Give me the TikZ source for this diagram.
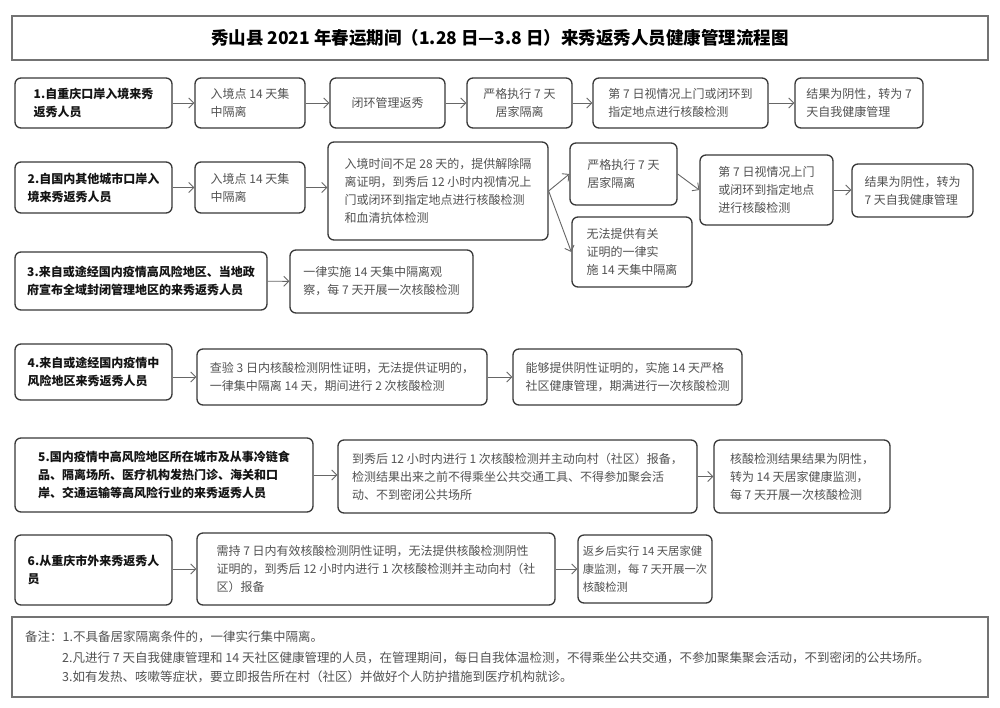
\documentclass[tikz,border=0pt]{standalone}
\usepackage{fontspec}
\setmainfont{Noto Sans CJK SC}
\usetikzlibrary{arrows.meta,positioning}

\begin{document}
\begin{tikzpicture}[x=1pt,y=-1pt,
    flowbox/.style={draw=black!78, line width=1.3pt, rounded corners=6pt, align=left, inner sep=3pt, text=black!68, font=\fontsize{12}{18}\selectfont},
    headbox/.style={flowbox, text=black!92, font=\fontsize{12}{18}\selectfont\bfseries},
    flowarrow/.style={draw=black!60, line width=0.9pt, -{Straight Barb[length=5pt,width=10pt]}},
    notetext/.style={anchor=base west, inner sep=0pt, text=black!68, font=\fontsize{12.5}{18}\selectfont}]
    \useasboundingbox[fill=white] (0,0) rectangle (1000,707);

    \node[draw=black!55, line width=1.8pt, minimum width=976, minimum height=44, font=\fontsize{17.5}{22}\selectfont\bfseries] (title) at (500,38) {秀山县 2021 年春运期间（1.28 日—3.8 日）来秀返秀人员健康管理流程图};

    \node[headbox, minimum width=157, minimum height=50] (r1a) at (93.5,103) {1.自重庆口岸入境来秀\\返秀人员};
    \node[flowbox, minimum width=110, minimum height=50] (r1b) at (250,103) {入境点 14 天集\\中隔离};
    \node[flowbox, minimum width=115, minimum height=50] (r1c) at (387.5,103) {闭环管理返秀};
    \node[flowbox, align=center, minimum width=105, minimum height=50] (r1d) at (519.5,103) {严格执行 7 天\\居家隔离};
    \node[flowbox, minimum width=175, minimum height=50] (r1e) at (680.5,103) {第 7 日视情况上门或闭环到\\指定地点进行核酸检测};
    \node[flowbox, minimum width=128, minimum height=50] (r1f) at (859,103) {结果为阴性，转为 7\\天自我健康管理};

    \node[headbox, minimum width=157, minimum height=51] (r2a) at (93.5,187.5) {2.自国内其他城市口岸入\\境来秀返秀人员};
    \node[flowbox, minimum width=110, minimum height=51] (r2b) at (250,187.5) {入境点 14 天集\\中隔离};
    \node[flowbox, minimum width=220, minimum height=98] (r2c) at (438,191) {入境时间不足 28 天的，提供解除隔\\离证明，到秀后 12 小时内视情况上\\门或闭环到指定地点进行核酸检测\\和血清抗体检测};
    \node[flowbox, minimum width=107, minimum height=62] (r2d) at (623.5,174) {严格执行 7 天\\居家隔离};
    \node[flowbox, minimum width=120, minimum height=70] (r2e) at (632,252) {无法提供有关\\证明的一律实\\施 14 天集中隔离};
    \node[flowbox, minimum width=133, minimum height=70] (r2f) at (766.5,190) {第 7 日视情况上门\\或闭环到指定地点\\进行核酸检测};
    \node[flowbox, minimum width=121, minimum height=53] (r2g) at (912.5,190.5) {结果为阴性，转为\\7 天自我健康管理};

    \node[headbox, minimum width=252, minimum height=58] (r3a) at (141,281) {3.来自或途经国内疫情高风险地区、当地政\\府宣布全域封闭管理地区的来秀返秀人员};
    \node[flowbox, minimum width=183, minimum height=63] (r3b) at (381.5,281.5) {一律实施 14 天集中隔离观\\察，每 7 天开展一次核酸检测};

    \node[headbox, minimum width=157, minimum height=56] (r4a) at (93.5,372) {4.来自或途经国内疫情中\\风险地区来秀返秀人员};
    \node[flowbox, minimum width=290, minimum height=56] (r4b) at (342,377) {查验 3 日内核酸检测阴性证明，无法提供证明的，\\一律集中隔离 14 天，期间进行 2 次核酸检测};
    \node[flowbox, minimum width=229, minimum height=56] (r4c) at (627.5,377) {能够提供阴性证明的，实施 14 天严格\\社区健康管理，期满进行一次核酸检测};

    \node[headbox, minimum width=298, minimum height=74] (r5a) at (164,475) {5.国内疫情中高风险地区所在城市及从事冷链食\\品、隔离场所、医疗机构发热门诊、海关和口\\岸、交通运输等高风险行业的来秀返秀人员};
    \node[flowbox, minimum width=359, minimum height=73] (r5b) at (517.5,476.5) {到秀后 12 小时内进行 1 次核酸检测并主动向村（社区）报备，\\检测结果出来之前不得乘坐公共交通工具、不得参加聚会活\\动、不到密闭公共场所};
    \node[flowbox, minimum width=176, minimum height=73] (r5c) at (802,476.5) {核酸检测结果结果为阴性，\\转为 14 天居家健康监测，\\每 7 天开展一次核酸检测};

    \node[headbox, minimum width=157, minimum height=70] (r6a) at (93.5,570) {6.从重庆市外来秀返秀人\\员};
    \node[flowbox, minimum width=358, minimum height=72] (r6b) at (376,569) {需持 7 日内有效核酸检测阴性证明，无法提供核酸检测阴性\\证明的，到秀后 12 小时内进行 1 次核酸检测并主动向村（社\\区）报备};
    \node[flowbox, minimum width=134, minimum height=68, font=\fontsize{11.3}{18}\selectfont] (r6c) at (645,569) {返乡后实行 14 天居家健\\康监测，每 7 天开展一次\\核酸检测};

    \draw[flowarrow] (r1a) -- (r1b);
    \draw[flowarrow] (r1b) -- (r1c);
    \draw[flowarrow] (r1c) -- (r1d);
    \draw[flowarrow] (r1d) -- (r1e);
    \draw[flowarrow] (r1e) -- (r1f);

    \draw[flowarrow] (r2a) -- (r2b);
    \draw[flowarrow] (r2b.east) -- (r2b.east -| r2c.west);
    \draw[flowarrow] (r2c.east) -- (r2d.west);
    \draw[flowarrow] (r2c.east) -- (r2e.west);
    \draw[flowarrow] (r2d.east) -- (r2f.west);
    \draw[flowarrow] (r2f.east) -- (r2f.east -| r2g.west);

    \draw[flowarrow] (r3a) -- (r3b);

    \draw[flowarrow] (r4b.west -| r4a.east) -- (r4b.west);
    \draw[flowarrow] (r4b) -- (r4c);

    \draw[flowarrow] (r5a.east) -- (r5a.east -| r5b.west);
    \draw[flowarrow] (r5b) -- (r5c);

    \draw[flowarrow] (r6b.west -| r6a.east) -- (r6b.west);
    \draw[flowarrow] (r6b) -- (r6c);

    \node[draw=black!55, line width=1.5pt, minimum width=976, minimum height=80] (notebox) at (500,657) {};
    \node[notetext] (note1) at (25,641) {备注：1.不具备居家隔离条件的，一律实行集中隔离。};
    \node[notetext] (note2) at (62,662) {2.凡进行 7 天自我健康管理和 14 天社区健康管理的人员，在管理期间，每日自我体温检测，不得乘坐公共交通，不参加聚集聚会活动，不到密闭的公共场所。};
    \node[notetext] (note3) at (62,681) {3.如有发热、咳嗽等症状，要立即报告所在村（社区）并做好个人防护措施到医疗机构就诊。};
\end{tikzpicture}
\end{document}
